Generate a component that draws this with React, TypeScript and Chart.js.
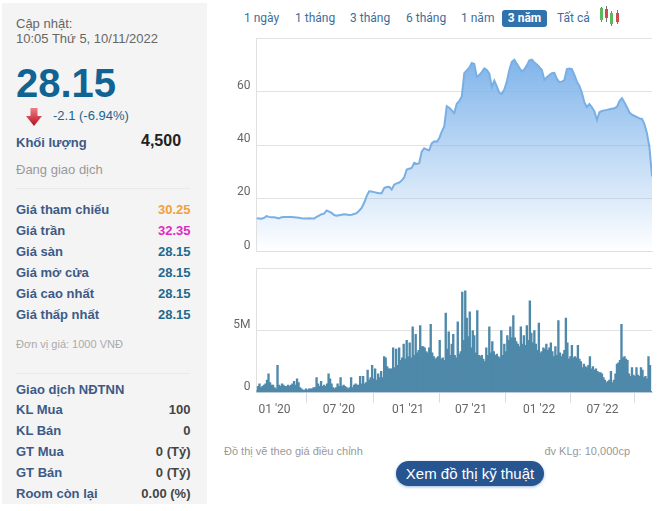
import { useEffect, useRef } from "react";
import { Chart, registerables } from "chart.js";

Chart.register(...registerables);

const FONT = '"Liberation Sans", Arial, sans-serif';
const AXIS_FONT = "Roboto, sans-serif";

// weekly closing price, unit = 1000 VND
const priceValues = [
  12.5, 12.4, 12.3, 12.6, 13.3, 13.0, 12.9, 12.9, 12.7, 12.4, 12.9, 13.0, 13.0, 13.0, 13.0, 12.9,
  12.8, 12.7, 12.5, 12.4, 12.4, 12.5, 12.4, 12.4, 13.0, 13.5, 14.0, 14.2, 15.4, 15.0, 14.5, 13.7,
  13.4, 13.6, 13.8, 14.0, 13.9, 13.7, 13.8, 14.1, 14.4, 15.3, 16.4, 18.3, 20.8, 22.6, 22.5, 22.3,
  22.1, 21.9, 21.9, 23.8, 24.2, 24.3, 23.3, 25.1, 25.6, 25.9, 26.7, 27.8, 30.8, 31.1, 31.4, 33.3,
  32.9, 33.2, 37.5, 38.8, 38.3, 38.0, 40.6, 41.4, 41.2, 42.5, 45.0, 47.0, 54.6, 54.0, 53.0, 52.0,
  55.5, 56.5, 58.2, 67.0, 68.0, 69.0, 70.8, 70.4, 65.7, 66.3, 67.4, 68.8, 68.2, 66.8, 61.8, 64.2,
  62.0, 59.6, 59.2, 60.8, 63.8, 68.2, 71.2, 72.0, 70.5, 69.0, 67.6, 68.4, 69.9, 71.8, 72.1, 71.0,
  70.2, 69.2, 68.2, 64.5, 65.5, 66.3, 67.0, 67.1, 64.8, 63.6, 63.8, 64.4, 68.5, 68.7, 68.5, 66.3,
  63.8, 62.2, 59.6, 56.0, 54.2, 55.4, 54.2, 52.6, 49.4, 52.3, 52.8, 53.0, 53.2, 53.4, 53.6, 53.8,
  54.3, 56.5, 57.6, 56.0, 54.2, 52.2, 51.4, 50.9, 50.5, 50.0, 49.8, 47.8, 44.3, 39.0, 28.2,
];

// traded volume in millions of shares, five samples per three price points
const volumeValues = [
  0.2, 0.5, 0.7, 0.4, 0.5, 0.6, 0.7, 1.0, 1.5, 0.8, 0.6, 0.6, 0.4, 0.3, 2.2, 0.6, 0.5, 0.7, 0.6, 0.5,
  0.5, 0.6, 0.5, 0.6, 0.7, 0.9, 0.6, 1.1, 0.8, 0.4, 0.3, 0.2, 0.2, 0.3, 0.2, 0.3, 0.3, 0.3, 0.4, 0.4,
  1.2, 0.7, 0.5, 0.9, 0.5, 0.6, 0.5, 0.7, 1.5, 1.1, 0.7, 0.4, 0.3, 0.4, 0.7, 0.5, 1.2, 0.5, 0.6, 0.5,
  0.4, 0.3, 0.4, 1.2, 0.4, 0.6, 0.7, 0.6, 0.6, 1.3, 0.7, 1.3, 0.7, 0.8, 1.8, 1.0, 1.2, 2.2, 1.1, 1.9,
  1.0, 1.5, 1.2, 1.7, 1.2, 2.9, 2.8, 2.1, 1.9, 1.9, 1.9, 3.6, 2.0, 3.5, 2.2, 3.6, 2.6, 2.8, 3.9, 2.7,
  4.2, 2.9, 4.0, 2.8, 5.3, 3.0, 4.7, 3.2, 3.4, 5.4, 3.7, 3.7, 3.6, 3.3, 3.2, 3.6, 5.5, 3.2, 2.9, 2.7,
  2.8, 2.9, 4.2, 2.7, 2.8, 2.6, 6.4, 3.5, 4.9, 3.0, 3.9, 4.7, 3.0, 2.8, 5.7, 3.1, 3.3, 8.1, 4.2, 8.2,
  6.0, 4.5, 6.5, 3.6, 5.0, 4.6, 3.2, 6.6, 3.0, 2.9, 3.0, 2.7, 2.5, 3.6, 3.0, 5.3, 3.2, 4.1, 3.3, 3.0,
  3.1, 2.9, 2.8, 5.0, 3.0, 3.9, 3.3, 4.6, 4.2, 5.3, 4.4, 6.2, 4.4, 4.1, 3.9, 3.7, 5.3, 3.9, 4.6, 3.8,
  5.4, 4.2, 7.4, 4.8, 4.0, 5.0, 3.9, 3.4, 5.6, 3.2, 3.3, 3.6, 3.5, 3.9, 3.4, 3.6, 4.0, 3.3, 2.9, 3.7,
  3.0, 5.8, 3.2, 2.9, 3.1, 3.4, 6.0, 4.0, 2.7, 2.9, 3.8, 2.8, 2.9, 2.8, 3.8, 2.7, 2.5, 2.0, 2.3, 2.1,
  2.0, 2.2, 2.9, 1.9, 2.1, 1.8, 1.9, 1.7, 1.6, 1.6, 1.5, 1.2, 1.0, 0.8, 0.9, 1.0, 1.7, 0.8, 1.0, 1.5,
  2.3, 2.4, 2.6, 5.5, 2.8, 2.9, 2.7, 2.6, 1.5, 1.3, 2.0, 1.4, 1.3, 2.0, 1.4, 1.3, 2.0, 1.8, 1.2, 1.3, 1.1, 2.9, 2.2, 0.1,
];

const xTickWeeks = [7.2, 32.9, 60.5, 85.7, 112.9, 138.2];
const xTickLabels = ["01 '20", "07 '20", "01 '21", "07 '21", "01 '22", "07 '22"];
const LAST_WEEK = priceValues.length - 1;

const rangeButtons = [
  { label: "1 ngày", left: 244 },
  { label: "1 tháng", left: 295 },
  { label: "3 tháng", left: 350 },
  { label: "6 tháng", left: 406 },
  { label: "1 năm", left: 461 },
  { label: "Tất cả", left: 557 },
];

const priceRows = [
  { label: "Giá tham chiếu", value: "30.25", color: "#f0a13c" },
  { label: "Giá trần", value: "32.35", color: "#e02ac4" },
  { label: "Giá sàn", value: "28.15", color: "#226a8c" },
  { label: "Giá mở cửa", value: "28.15", color: "#226a8c" },
  { label: "Giá cao nhất", value: "28.15", color: "#226a8c" },
  { label: "Giá thấp nhất", value: "28.15", color: "#226a8c" },
];

const foreignRows = [
  { label: "KL Mua", value: "100" },
  { label: "KL Bán", value: "0" },
  { label: "GT Mua", value: "0 (Tỷ)" },
  { label: "GT Bán", value: "0 (Tỷ)" },
  { label: "Room còn lại", value: "0.00 (%)" },
];

const candles = [
  { left: 600, top: 8, height: 12, wickTop: 7, wickHeight: 15, color: "#5cb85c" },
  { left: 605, top: 9, height: 9, wickTop: 6, wickHeight: 16, color: "#d0494f" },
  { left: 610, top: 13, height: 11, wickTop: 11, wickHeight: 15, color: "#5cb85c" },
  { left: 616, top: 13, height: 9, wickTop: 10, wickHeight: 14, color: "#d0494f" },
];

// keep the plot area where it was asked to be, labels may overflow it
const noPadding = (s: any) => {
  s.paddingTop = 0;
  s.paddingBottom = 0;
  s.paddingLeft = 0;
  s.paddingRight = 0;
};

function PriceChart() {
  const ref = useRef<HTMLCanvasElement>(null);

  useEffect(() => {
    if (!ref.current) return;
    const chart = new Chart(ref.current, {
      type: "line",
      data: {
        datasets: [
          {
            data: priceValues.map((y, x) => ({ x, y })),
            borderColor: "#7aafe4",
            borderWidth: 2,
            pointRadius: 0,
            tension: 0,
            fill: "origin",
            backgroundColor: (c: any) => {
              const area = c.chart.chartArea;
              if (!area) return "#7cb5ec";
              const g = c.chart.ctx.createLinearGradient(0, area.top + 18, 0, area.bottom);
              g.addColorStop(0, "rgba(124,178,234,0.98)");
              g.addColorStop(1, "rgba(124,178,234,0)");
              return g;
            },
          },
        ],
      },
      options: {
        animation: false,
        responsive: false,
        layout: { padding: { top: 8.5, bottom: 8.5, right: 6, left: 0 } },
        plugins: { legend: { display: false }, tooltip: { enabled: false } },
        scales: {
          x: {
            type: "linear",
            min: 0,
            max: LAST_WEEK,
            grid: { display: false },
            border: { color: "#e0e0e0" },
            ticks: { display: false },
            afterFit: (s: any) => { s.height = 0; noPadding(s); },
          },
          y: {
            min: 0,
            max: 80,
            afterFit: (s: any) => { s.width = 36.5; noPadding(s); },
            grid: { color: "#e2e2e2", drawTicks: false },
            border: { color: "#e0e0e0" },
            ticks: {
              stepSize: 20,
              padding: 6,
              labelOffset: -6,
              color: "#666",
              font: { size: 12, family: AXIS_FONT },
              callback: (v: any) => (v === 80 ? "" : String(v)),
            },
          },
        },
      },
    });
    return () => chart.destroy();
  }, []);

  return <canvas ref={ref} width={438} height={230} style={{ position: "absolute", left: 220, top: 30 }} />;
}

function VolumeChart() {
  const ref = useRef<HTMLCanvasElement>(null);

  useEffect(() => {
    if (!ref.current) return;
    const chart = new Chart(ref.current, {
      type: "bar",
      data: {
        datasets: [
          {
            data: volumeValues.map((y, i) => ({ x: i * 0.6, y })),
            backgroundColor: "#4f89aa",
            barThickness: 1.7,
          },
        ],
      },
      options: {
        animation: false,
        responsive: false,
        layout: { padding: { top: 8.5, bottom: 0, right: 6, left: 0 } },
        plugins: { legend: { display: false }, tooltip: { enabled: false } },
        scales: {
          x: {
            type: "linear",
            offset: false,
            min: 0,
            max: LAST_WEEK,
            afterFit: (s: any) => { s.height = 27.5; noPadding(s); },
            afterBuildTicks: (s: any) => { s.ticks = xTickWeeks.map((value) => ({ value })); },
            grid: { drawOnChartArea: false, color: "#d5dbe6", tickLength: 10 },
            border: { color: "#d5dbe6" },
            ticks: {
              autoSkip: false,
              maxRotation: 0,
              padding: 0,
              color: "#666",
              font: { size: 12, family: AXIS_FONT },
              callback: (v: any) => xTickLabels[xTickWeeks.indexOf(v)],
            },
          },
          y: {
            min: 0,
            max: 10,
            afterFit: (s: any) => { s.width = 36.5; noPadding(s); },
            grid: { color: "#e2e2e2", drawTicks: false },
            border: { color: "#e0e0e0" },
            ticks: {
              stepSize: 5,
              padding: 6,
              labelOffset: -6,
              color: "#666",
              font: { size: 12, family: AXIS_FONT },
              callback: (v: any) => (v === 0 ? "0" : v === 5 ? "5M" : ""),
            },
          },
        },
      },
    });
    return () => chart.destroy();
  }, []);

  return <canvas ref={ref} width={438} height={160} style={{ position: "absolute", left: 220, top: 260 }} />;
}

function Txt(props: { x?: number; right?: number; y: number; size: number; color: string; bold?: boolean; children: any }) {
  const { x, right, y, size, color, bold, children } = props;
  return (
    <div
      style={{
        position: "absolute",
        left: x,
        right: right !== undefined ? 658 - right : undefined,
        top: y - 10,
        height: 20,
        lineHeight: "20px",
        fontSize: size,
        color,
        fontWeight: bold ? 700 : 400,
        whiteSpace: "nowrap",
      }}
    >
      {children}
    </div>
  );
}

export default function App() {
  return (
    <div style={{ position: "absolute", left: 0, top: 0, width: 658, height: 511, overflow: "hidden", background: "#fff", fontFamily: FONT }}>
      <div style={{ position: "absolute", left: 2, top: 3, width: 205, height: 501, background: "#f4f4f5" }} />

      <Txt x={16} y={24} size={13} color="#666">Cập nhật:</Txt>
      <Txt x={16} y={39} size={13} color="#666">10:05 Thứ 5, 10/11/2022</Txt>
      <Txt x={16} y={83} size={40} color="#0f6494" bold>28.15</Txt>
      <svg width={16} height={18} style={{ position: "absolute", left: 26, top: 108 }}>
        <defs>
          <linearGradient id="arrowRed" x1="0" y1="0" x2="0" y2="1">
            <stop offset="0" stopColor="#ee7f88" />
            <stop offset="1" stopColor="#b80f1c" />
          </linearGradient>
        </defs>
        <path d="M4.5 0 H11.5 V8 H16 L8 18 L0 8 H4.5 Z" fill="url(#arrowRed)" />
      </svg>
      <Txt x={53} y={116} size={13} color="#1c6488">-2.1 (-6.94%)</Txt>
      <Txt x={16} y={143} size={13} color="#3d5a86" bold>Khối lượng</Txt>
      <Txt x={141} y={141} size={16} color="#222" bold>4,500</Txt>
      <Txt x={16} y={170} size={13} color="#999">Đang giao dịch</Txt>
      <div style={{ position: "absolute", left: 16, top: 188, width: 174, height: 1, background: "#eaeaea" }} />

      {priceRows.map((r, i) => (
        <div key={r.label}>
          <Txt x={16} y={209.5 + i * 21} size={13} color="#3d5a86" bold>{r.label}</Txt>
          <Txt right={190.5} y={209.5 + i * 21} size={13} color={r.color} bold>{r.value}</Txt>
        </div>
      ))}
      <Txt x={16} y={343.5} size={11} color="#aaa">Đơn vị giá: 1000 VNĐ</Txt>
      <div style={{ position: "absolute", left: 16, top: 373, width: 174, height: 1, background: "#eaeaea" }} />

      <Txt x={16} y={389.5} size={13} color="#3d5a86" bold>Giao dịch NĐTNN</Txt>
      {foreignRows.map((r, i) => (
        <div key={r.label}>
          <Txt x={16} y={410 + i * 21} size={13} color="#3d5a86" bold>{r.label}</Txt>
          <Txt right={190.5} y={410 + i * 21} size={13} color="#444" bold>{r.value}</Txt>
        </div>
      ))}

      {rangeButtons.map((b) => (
        <div key={b.label} style={{ position: "absolute", left: b.left, top: 8, height: 20, lineHeight: "20px", fontSize: 12, fontFamily: AXIS_FONT, color: "#3c6e9c", whiteSpace: "nowrap" }}>
          {b.label}
        </div>
      ))}
      <div style={{ position: "absolute", left: 502, top: 10, width: 45, height: 17, lineHeight: "17px", borderRadius: 3, background: "#2f72ac", color: "#fff", fontSize: 12, fontWeight: 700, fontFamily: AXIS_FONT, textAlign: "center" }}>
        3 năm
      </div>
      {candles.map((c) => (
        <div key={c.left}>
          <div style={{ position: "absolute", left: c.left + 1, top: c.wickTop, width: 1, height: c.wickHeight, background: "#777" }} />
          <div style={{ position: "absolute", left: c.left, top: c.top, width: 3, height: c.height, background: c.color }} />
        </div>
      ))}

      <PriceChart />
      <VolumeChart />

      <Txt x={224} y={451} size={11} color="#999">Đồ thị vẽ theo giá điều chỉnh</Txt>
      <Txt right={630} y={451} size={11} color="#999">đv KLg: 10,000cp</Txt>
      <div style={{ position: "absolute", left: 396, top: 461, width: 148, height: 25, lineHeight: "25px", borderRadius: 13, background: "#27558f", boxShadow: "0 1px 3px rgba(60,120,190,0.5)", color: "#fff", fontSize: 15, textAlign: "center" }}>
        Xem đồ thị kỹ thuật
      </div>
    </div>
  );
}
